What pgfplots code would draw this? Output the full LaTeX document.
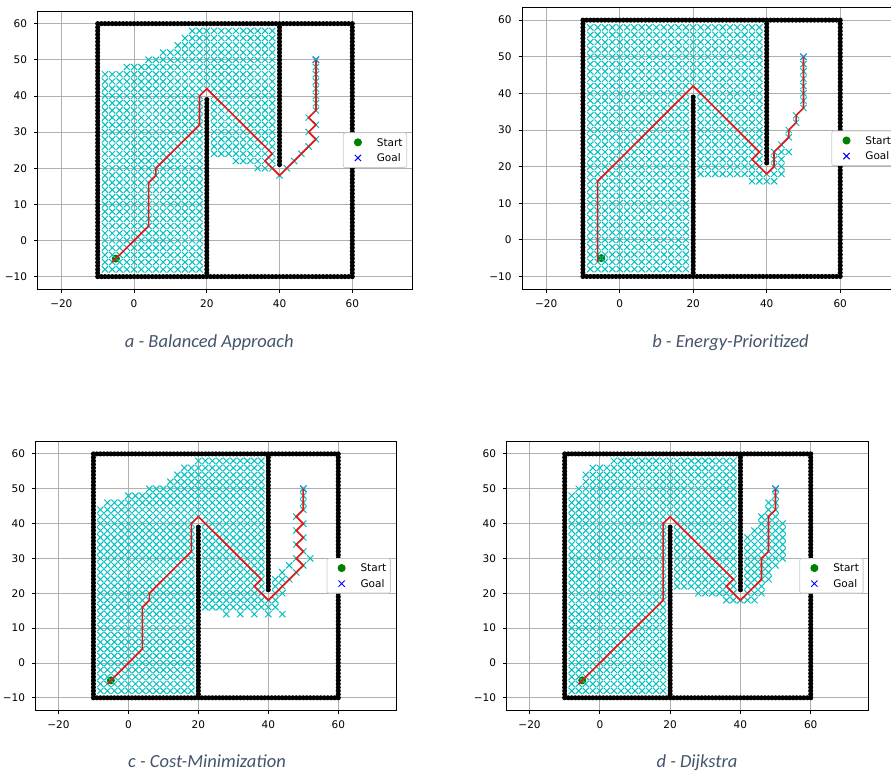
\documentclass[border=0pt]{standalone}
\usepackage{pgfplots}
\pgfplotsset{compat=1.18}
\usepackage{pgfplotstable}
\usepackage{fontspec}
\newfontfamily\dejavu{DejaVu Sans}
\newfontfamily\carlito{Carlito}
\definecolor{cyanx}{RGB}{0,191,191}
\definecolor{gridc}{RGB}{176,176,176}
\definecolor{startc}{RGB}{0,128,0}
\definecolor{pathc}{RGB}{225,25,25}
\definecolor{capc}{RGB}{68,84,106}
\pgfplotsset{
 panel/.style={
  scale only axis, anchor=south west, clip mode=individual,
  xmin=-26.5, xmax=76.5, ymin=-13.5, ymax=63.5,
  xtick={-20,0,20,40,60}, xticklabels={−20,0,20,40,60},
  ytick={-10,0,10,20,30,40,50,60}, yticklabels={−10,0,10,20,30,40,50,60},
  tick pos=left, tick align=outside, major tick length=1.85pt,
  grid=major, major grid style={gridc, line width=0.42pt},
  axis line style={black, line width=0.42pt},
  every tick/.style={black, line width=0.42pt},
  tick label style={font=\dejavu\fontsize{5.25}{6}\selectfont},
  legend style={at={(1,0.5)}, anchor=east, xshift=-2.6pt, draw=black!20, fill=white,
   rounded corners=1pt, font=\dejavu\fontsize{5.25}{6}\selectfont,
   inner xsep=2.1pt, inner ysep=2.8pt, row sep=3.9pt,
   nodes={inner sep=0pt, text height=3.9pt, text depth=0pt},
   cells={anchor=west},
   /tikz/every odd column/.append style={column sep=4.2pt}},
 },
 legimg/.style={legend image code/.code={\path[draw=none,fill=none] (0pt,0pt) -- (10.5pt,0pt);\draw[mark repeat=2,mark phase=2,##1] plot coordinates {(0pt,0pt)(5.25pt,0pt)(10.5pt,0pt)};}},
 obst/.style={only marks, mark=*, mark size=1.05pt, black, forget plot},
 expl/.style={only marks, mark=x, mark size=2.2pt, color=cyanx, line width=0.5pt, forget plot},
 startm/.style={only marks, mark=*, mark size=1.8pt, color=startc, legimg},
 goalm/.style={only marks, mark=x, mark size=2.2pt, color=blue, line width=0.5pt, legimg},
 pathr/.style={pathc, line width=0.85pt, no marks, forget plot},
}
\begin{document}
\pgfplotstableread[row sep=\\]{
x y\\
-10 -10\\-9 -10\\-8 -10\\-7 -10\\-6 -10\\-5 -10\\-4 -10\\-3 -10\\-2 -10\\-1 -10\\
0 -10\\1 -10\\2 -10\\3 -10\\4 -10\\5 -10\\6 -10\\7 -10\\8 -10\\9 -10\\
10 -10\\11 -10\\12 -10\\13 -10\\14 -10\\15 -10\\16 -10\\17 -10\\18 -10\\19 -10\\
20 -10\\21 -10\\22 -10\\23 -10\\24 -10\\25 -10\\26 -10\\27 -10\\28 -10\\29 -10\\
30 -10\\31 -10\\32 -10\\33 -10\\34 -10\\35 -10\\36 -10\\37 -10\\38 -10\\39 -10\\
40 -10\\41 -10\\42 -10\\43 -10\\44 -10\\45 -10\\46 -10\\47 -10\\48 -10\\49 -10\\
50 -10\\51 -10\\52 -10\\53 -10\\54 -10\\55 -10\\56 -10\\57 -10\\58 -10\\59 -10\\
60 -10\\60 -9\\60 -8\\60 -7\\60 -6\\60 -5\\60 -4\\60 -3\\60 -2\\60 -1\\
60 0\\60 1\\60 2\\60 3\\60 4\\60 5\\60 6\\60 7\\60 8\\60 9\\
60 10\\60 11\\60 12\\60 13\\60 14\\60 15\\60 16\\60 17\\60 18\\60 19\\
60 20\\60 21\\60 22\\60 23\\60 24\\60 25\\60 26\\60 27\\60 28\\60 29\\
60 30\\60 31\\60 32\\60 33\\60 34\\60 35\\60 36\\60 37\\60 38\\60 39\\
60 40\\60 41\\60 42\\60 43\\60 44\\60 45\\60 46\\60 47\\60 48\\60 49\\
60 50\\60 51\\60 52\\60 53\\60 54\\60 55\\60 56\\60 57\\60 58\\60 59\\
-10 60\\-9 60\\-8 60\\-7 60\\-6 60\\-5 60\\-4 60\\-3 60\\-2 60\\-1 60\\
0 60\\1 60\\2 60\\3 60\\4 60\\5 60\\6 60\\7 60\\8 60\\9 60\\
10 60\\11 60\\12 60\\13 60\\14 60\\15 60\\16 60\\17 60\\18 60\\19 60\\
20 60\\21 60\\22 60\\23 60\\24 60\\25 60\\26 60\\27 60\\28 60\\29 60\\
30 60\\31 60\\32 60\\33 60\\34 60\\35 60\\36 60\\37 60\\38 60\\39 60\\
40 60\\41 60\\42 60\\43 60\\44 60\\45 60\\46 60\\47 60\\48 60\\49 60\\
50 60\\51 60\\52 60\\53 60\\54 60\\55 60\\56 60\\57 60\\58 60\\59 60\\60 60\\
-10 -9\\-10 -8\\-10 -7\\-10 -6\\-10 -5\\-10 -4\\-10 -3\\-10 -2\\-10 -1\\
-10 0\\-10 1\\-10 2\\-10 3\\-10 4\\-10 5\\-10 6\\-10 7\\-10 8\\-10 9\\
-10 10\\-10 11\\-10 12\\-10 13\\-10 14\\-10 15\\-10 16\\-10 17\\-10 18\\-10 19\\
-10 20\\-10 21\\-10 22\\-10 23\\-10 24\\-10 25\\-10 26\\-10 27\\-10 28\\-10 29\\
-10 30\\-10 31\\-10 32\\-10 33\\-10 34\\-10 35\\-10 36\\-10 37\\-10 38\\-10 39\\
-10 40\\-10 41\\-10 42\\-10 43\\-10 44\\-10 45\\-10 46\\-10 47\\-10 48\\-10 49\\
-10 50\\-10 51\\-10 52\\-10 53\\-10 54\\-10 55\\-10 56\\-10 57\\-10 58\\-10 59\\
20 -9\\20 -8\\20 -7\\20 -6\\20 -5\\20 -4\\20 -3\\20 -2\\20 -1\\
20 0\\20 1\\20 2\\20 3\\20 4\\20 5\\20 6\\20 7\\20 8\\20 9\\
20 10\\20 11\\20 12\\20 13\\20 14\\20 15\\20 16\\20 17\\20 18\\20 19\\
20 20\\20 21\\20 22\\20 23\\20 24\\20 25\\20 26\\20 27\\20 28\\20 29\\
20 30\\20 31\\20 32\\20 33\\20 34\\20 35\\20 36\\20 37\\20 38\\20 39\\
40 21\\40 22\\40 23\\40 24\\40 25\\40 26\\40 27\\40 28\\40 29\\
40 30\\40 31\\40 32\\40 33\\40 34\\40 35\\40 36\\40 37\\40 38\\40 39\\
40 40\\40 41\\40 42\\40 43\\40 44\\40 45\\40 46\\40 47\\40 48\\40 49\\
40 50\\40 51\\40 52\\40 53\\40 54\\40 55\\40 56\\40 57\\40 58\\40 59\\
}\obs
\pgfplotstableread[row sep=\\]{
x y\\
-8 -8\\-8 -6\\-8 -4\\-8 -2\\-8 0\\-8 2\\-8 4\\-8 6\\-8 8\\-8 10\\-8 12\\-8 14\\-8 16\\-8 18\\-8 20\\-8 22\\-8 24\\-8 26\\-8 28\\-8 30\\-8 32\\-8 34\\-8 36\\-8 38\\-8 40\\-8 42\\-8 44\\
-6 -8\\-6 -6\\-6 -4\\-6 -2\\-6 0\\-6 2\\-6 4\\-6 6\\-6 8\\-6 10\\-6 12\\-6 14\\-6 16\\-6 18\\-6 20\\-6 22\\-6 24\\-6 26\\-6 28\\-6 30\\-6 32\\-6 34\\-6 36\\-6 38\\-6 40\\-6 42\\-6 44\\
-4 -8\\-4 -6\\-4 -4\\-4 -2\\-4 0\\-4 2\\-4 4\\-4 6\\-4 8\\-4 10\\-4 12\\-4 14\\-4 16\\-4 18\\-4 20\\-4 22\\-4 24\\-4 26\\-4 28\\-4 30\\-4 32\\-4 34\\-4 36\\-4 38\\-4 40\\-4 42\\-4 44\\
-2 -8\\-2 -6\\-2 -4\\-2 -2\\-2 0\\-2 2\\-2 4\\-2 6\\-2 8\\-2 10\\-2 12\\-2 14\\-2 16\\-2 18\\-2 20\\-2 22\\-2 24\\-2 26\\-2 28\\-2 30\\-2 32\\-2 34\\-2 36\\-2 38\\-2 40\\-2 42\\-2 44\\
0 -8\\0 -6\\0 -4\\0 -2\\0 0\\0 2\\0 4\\0 6\\0 8\\0 10\\0 12\\0 14\\0 16\\0 18\\0 20\\0 22\\0 24\\0 26\\0 28\\0 30\\0 32\\0 34\\0 36\\0 38\\0 40\\0 42\\0 44\\
2 -8\\2 -6\\2 -4\\2 -2\\2 0\\2 2\\2 4\\2 6\\2 8\\2 10\\2 12\\2 14\\2 16\\2 18\\2 20\\2 22\\2 24\\2 26\\2 28\\2 30\\2 32\\2 34\\2 36\\2 38\\2 40\\2 42\\2 44\\
4 -8\\4 -6\\4 -4\\4 -2\\4 0\\4 2\\4 4\\4 6\\4 8\\4 10\\4 12\\4 14\\4 16\\4 18\\4 20\\4 22\\4 24\\4 26\\4 28\\4 30\\4 32\\4 34\\4 36\\4 38\\4 40\\4 42\\4 44\\
6 -8\\6 -6\\6 -4\\6 -2\\6 0\\6 2\\6 4\\6 6\\6 8\\6 10\\6 12\\6 14\\6 16\\6 18\\6 20\\6 22\\6 24\\6 26\\6 28\\6 30\\6 32\\6 34\\6 36\\6 38\\6 40\\6 42\\6 44\\
8 -8\\8 -6\\8 -4\\8 -2\\8 0\\8 2\\8 4\\8 6\\8 8\\8 10\\8 12\\8 14\\8 16\\8 18\\8 20\\8 22\\8 24\\8 26\\8 28\\8 30\\8 32\\8 34\\8 36\\8 38\\8 40\\8 42\\8 44\\
10 -8\\10 -6\\10 -4\\10 -2\\10 0\\10 2\\10 4\\10 6\\10 8\\10 10\\10 12\\10 14\\10 16\\10 18\\10 20\\10 22\\10 24\\10 26\\10 28\\10 30\\10 32\\10 34\\10 36\\10 38\\10 40\\10 42\\10 44\\
12 -8\\12 -6\\12 -4\\12 -2\\12 0\\12 2\\12 4\\12 6\\12 8\\12 10\\12 12\\12 14\\12 16\\12 18\\12 20\\12 22\\12 24\\12 26\\12 28\\12 30\\12 32\\12 34\\12 36\\12 38\\12 40\\12 42\\12 44\\
14 -8\\14 -6\\14 -4\\14 -2\\14 0\\14 2\\14 4\\14 6\\14 8\\14 10\\14 12\\14 14\\14 16\\14 18\\14 20\\14 22\\14 24\\14 26\\14 28\\14 30\\14 32\\14 34\\14 36\\14 38\\14 40\\14 42\\14 44\\
16 -8\\16 -6\\16 -4\\16 -2\\16 0\\16 2\\16 4\\16 6\\16 8\\16 10\\16 12\\16 14\\16 16\\16 18\\16 20\\16 22\\16 24\\16 26\\16 28\\16 30\\16 32\\16 34\\16 36\\16 38\\16 40\\16 42\\16 44\\
18 -8\\18 -6\\18 -4\\18 -2\\18 0\\18 2\\18 4\\18 6\\18 8\\18 10\\18 12\\18 14\\18 16\\18 18\\18 20\\18 22\\18 24\\18 26\\18 28\\18 30\\18 32\\18 34\\18 36\\18 38\\18 40\\18 42\\18 44\\
20 42\\20 44\\20 46\\20 48\\20 50\\20 52\\20 54\\20 56\\20 58\\
22 24\\22 26\\22 28\\22 30\\22 32\\22 34\\22 36\\22 38\\22 40\\22 42\\22 44\\22 46\\22 48\\22 50\\22 52\\22 54\\22 56\\22 58\\
24 24\\24 26\\24 28\\24 30\\24 32\\24 34\\24 36\\24 38\\24 40\\24 42\\24 44\\24 46\\24 48\\24 50\\24 52\\24 54\\24 56\\24 58\\
26 24\\26 26\\26 28\\26 30\\26 32\\26 34\\26 36\\26 38\\26 40\\26 42\\26 44\\26 46\\26 48\\26 50\\26 52\\26 54\\26 56\\26 58\\
28 24\\28 26\\28 28\\28 30\\28 32\\28 34\\28 36\\28 38\\28 40\\28 42\\28 44\\28 46\\28 48\\28 50\\28 52\\28 54\\28 56\\28 58\\
30 24\\30 26\\30 28\\30 30\\30 32\\30 34\\30 36\\30 38\\30 40\\30 42\\30 44\\30 46\\30 48\\30 50\\30 52\\30 54\\30 56\\30 58\\
32 24\\32 26\\32 28\\32 30\\32 32\\32 34\\32 36\\32 38\\32 40\\32 42\\32 44\\32 46\\32 48\\32 50\\32 52\\32 54\\32 56\\32 58\\
34 24\\34 26\\34 28\\34 30\\34 32\\34 34\\34 36\\34 38\\34 40\\34 42\\34 44\\34 46\\34 48\\34 50\\34 52\\34 54\\34 56\\34 58\\
36 24\\36 26\\36 28\\36 30\\36 32\\36 34\\36 36\\36 38\\36 40\\36 42\\36 44\\36 46\\36 48\\36 50\\36 52\\36 54\\36 56\\36 58\\
38 24\\38 26\\38 28\\38 30\\38 32\\38 34\\38 36\\38 38\\38 40\\38 42\\38 44\\38 46\\38 48\\38 50\\38 52\\38 54\\38 56\\38 58\\
}\expC
\pgfplotstableread[row sep=\\]{
x y\\
-8 46\\-6 46\\-4 46\\-2 46\\-2 48\\0 46\\0 48\\2 46\\2 48\\4 46\\4 48\\4 50\\6 46\\6 48\\6 50\\
8 46\\8 48\\8 50\\8 52\\10 46\\10 48\\10 50\\10 52\\12 46\\12 48\\12 50\\12 52\\12 54\\
14 46\\14 48\\14 50\\14 52\\14 54\\14 56\\16 46\\16 48\\16 50\\16 52\\16 54\\16 56\\16 58\\
18 46\\18 48\\18 50\\18 52\\18 54\\18 56\\18 58\\
28 22\\30 22\\32 22\\34 20\\34 22\\36 20\\36 22\\38 20\\38 22\\
40 18\\42 20\\44 22\\46 24\\48 26\\50 28\\48 30\\50 32\\48 34\\50 36\\50 38\\50 40\\50 42\\50 44\\50 46\\50 48\\50 50\\
}\expA
\pgfplotstableread[row sep=\\]{
x y\\
-8 46\\-8 48\\-8 50\\-8 52\\-8 54\\-8 56\\-8 58\\
-6 46\\-6 48\\-6 50\\-6 52\\-6 54\\-6 56\\-6 58\\
-4 46\\-4 48\\-4 50\\-4 52\\-4 54\\-4 56\\-4 58\\
-2 46\\-2 48\\-2 50\\-2 52\\-2 54\\-2 56\\-2 58\\
0 46\\0 48\\0 50\\0 52\\0 54\\0 56\\0 58\\
2 46\\2 48\\2 50\\2 52\\2 54\\2 56\\2 58\\
4 46\\4 48\\4 50\\4 52\\4 54\\4 56\\4 58\\
6 46\\6 48\\6 50\\6 52\\6 54\\6 56\\6 58\\
8 46\\8 48\\8 50\\8 52\\8 54\\8 56\\8 58\\
10 46\\10 48\\10 50\\10 52\\10 54\\10 56\\10 58\\
12 46\\12 48\\12 50\\12 52\\12 54\\12 56\\12 58\\
14 46\\14 48\\14 50\\14 52\\14 54\\14 56\\14 58\\
16 46\\16 48\\16 50\\16 52\\16 54\\16 56\\16 58\\
18 46\\18 48\\18 50\\18 52\\18 54\\18 56\\18 58\\
22 18\\22 20\\22 22\\24 18\\24 20\\24 22\\26 18\\26 20\\26 22\\28 18\\28 20\\28 22\\
30 18\\30 20\\30 22\\32 18\\32 20\\32 22\\34 18\\34 20\\34 22\\
36 16\\36 18\\36 20\\36 22\\38 16\\38 18\\38 20\\38 22\\
40 16\\40 18\\42 16\\42 18\\42 20\\42 22\\42 24\\44 18\\44 20\\44 22\\44 24\\44 26\\46 24\\
46 28\\46 30\\48 32\\48 34\\50 36\\50 38\\50 40\\50 42\\50 44\\50 46\\50 48\\50 50\\
}\expB
\pgfplotstableread[row sep=\\]{
x y\\
-6 46\\-4 46\\-2 46\\0 46\\0 48\\2 46\\2 48\\4 46\\4 48\\6 46\\6 48\\6 50\\
8 46\\8 48\\8 50\\10 46\\10 48\\10 50\\12 46\\12 48\\12 50\\12 52\\
14 46\\14 48\\14 50\\14 52\\14 54\\16 46\\16 48\\16 50\\16 52\\16 54\\16 56\\
18 46\\18 48\\18 50\\18 52\\18 54\\18 56\\
22 16\\22 18\\22 20\\22 22\\24 16\\24 18\\24 20\\24 22\\26 16\\26 18\\26 20\\26 22\\
28 16\\28 18\\28 20\\28 22\\30 16\\30 18\\30 20\\30 22\\32 16\\32 18\\32 20\\32 22\\
34 16\\34 18\\34 20\\34 22\\36 16\\36 18\\36 20\\36 22\\38 16\\38 18\\38 20\\38 22\\
28 14\\32 14\\36 14\\40 14\\44 14\\
40 16\\40 18\\42 16\\42 18\\42 20\\42 22\\42 24\\44 20\\44 22\\44 24\\44 26\\46 24\\46 28\\
48 26\\50 28\\52 30\\48 30\\50 32\\48 34\\50 36\\48 38\\50 40\\48 42\\50 44\\50 46\\50 48\\50 50\\
}\expX
\pgfplotstableread[row sep=\\]{
x y\\
-8 46\\-8 48\\-6 46\\-6 48\\-6 50\\-4 46\\-4 48\\-4 50\\-4 52\\-4 54\\
-2 46\\-2 48\\-2 50\\-2 52\\-2 54\\-2 56\\0 46\\0 48\\0 50\\0 52\\0 54\\0 56\\
2 46\\2 48\\2 50\\2 52\\2 54\\2 56\\
4 46\\4 48\\4 50\\4 52\\4 54\\4 56\\4 58\\
6 46\\6 48\\6 50\\6 52\\6 54\\6 56\\6 58\\
8 46\\8 48\\8 50\\8 52\\8 54\\8 56\\8 58\\
10 46\\10 48\\10 50\\10 52\\10 54\\10 56\\10 58\\
12 46\\12 48\\12 50\\12 52\\12 54\\12 56\\12 58\\
14 46\\14 48\\14 50\\14 52\\14 54\\14 56\\14 58\\
16 46\\16 48\\16 50\\16 52\\16 54\\16 56\\16 58\\
18 46\\18 48\\18 50\\18 52\\18 54\\18 56\\18 58\\
22 22\\24 22\\26 22\\28 20\\28 22\\30 20\\30 22\\32 20\\32 22\\34 20\\34 22\\
36 18\\36 20\\36 22\\38 18\\38 20\\38 22\\40 18\\
42 18\\42 20\\42 22\\42 24\\42 26\\42 28\\42 30\\42 32\\42 34\\42 36\\
44 18\\44 20\\44 22\\44 24\\44 26\\44 28\\44 30\\44 32\\44 34\\44 36\\44 38\\
46 20\\46 22\\46 24\\46 26\\46 28\\46 30\\46 32\\46 34\\46 36\\46 38\\46 40\\46 42\\
48 24\\48 26\\48 28\\48 30\\48 32\\48 34\\48 36\\48 38\\48 40\\48 42\\48 44\\48 46\\
50 28\\50 30\\50 32\\50 34\\50 36\\50 38\\50 40\\50 42\\50 44\\50 46\\50 48\\50 50\\
52 30\\52 32\\52 34\\52 36\\52 38\\52 40\\
}\expD
\begin{tikzpicture}
\path[use as bounding box] (0,0) rectangle (445.5pt,385.5pt);
\clip (0,0) rectangle (445.5pt,385.5pt);
% a
\begin{axis}[panel, at={(18.85pt,240.85pt)}, width=187.3pt, height=139.15pt]
\addplot[obst] table {\obs};
\addplot[startm] coordinates {(-5,-5)}; \addlegendentry{Start}
\addplot[goalm] coordinates {(50,50)}; \addlegendentry{Goal}
\addplot[expl] table {\expC};
\addplot[expl] table {\expA};
\addplot[pathr] coordinates {(50,50) (50,36) (48,34) (50,32) (48,30) (50,28) (40,18) (36,22) (38,24) (20,42) (18,40) (18,32) (6,20) (6,18) (4,16) (4,4) (-6,-6)};
\end{axis}
% b
\begin{axis}[panel, at={(261.15pt,240.85pt)}, width=189.3pt, height=141pt]
\addplot[obst] table {\obs};
\addplot[startm] coordinates {(-5,-5)}; \addlegendentry{Start}
\addplot[goalm] coordinates {(50,50)}; \addlegendentry{Goal}
\addplot[expl] table {\expC};
\addplot[expl] table {\expB};
\addplot[pathr] coordinates {(50,50) (50,36) (48,34) (48,32) (46,30) (46,28) (42,24) (42,20) (40,18) (36,22) (38,24) (20,42) (-6,16) (-6,-6)};
\end{axis}
% c
\begin{axis}[panel, at={(17.85pt,30.5pt)}, width=180.15pt, height=134.15pt]
\addplot[obst] table {\obs};
\addplot[startm] coordinates {(-5,-5)}; \addlegendentry{Start}
\addplot[goalm] coordinates {(50,50)}; \addlegendentry{Goal}
\addplot[expl] table {\expC};
\addplot[expl] table {\expX};
\addplot[pathr] coordinates {(50,50) (50,44) (48,42) (50,40) (48,38) (50,36) (48,34) (50,32) (48,30) (50,28) (40,18) (36,22) (38,24) (20,42) (18,40) (18,32) (6,20) (6,18) (4,16) (4,4) (-6,-6)};
\end{axis}
% d
\begin{axis}[panel, at={(253.35pt,30.5pt)}, width=181pt, height=134.15pt]
\addplot[obst] table {\obs};
\addplot[startm] coordinates {(-5,-5)}; \addlegendentry{Start}
\addplot[goalm] coordinates {(50,50)}; \addlegendentry{Goal}
\addplot[expl] table {\expC};
\addplot[expl] table {\expD};
\addplot[pathr] coordinates {(50,50) (50,44) (48,42) (48,32) (46,30) (46,24) (40,18) (36,22) (38,24) (20,42) (18,40) (18,18) (-6,-6)};
\end{axis}
\begin{scope}[every node/.style={anchor=base, text=capc, font=\carlito\itshape\fontsize{9.25}{11}\selectfont}]
\node at (104.65pt,211.5pt) {a - Balanced Approach};
\node at (365.25pt,211.5pt) {b - Energy-Prioritized};
\node at (103.5pt,1.8pt) {c - Cost-Minimization};
\node at (348.5pt,1.8pt) {d - Dijkstra};
\end{scope}
\end{tikzpicture}
\end{document}
